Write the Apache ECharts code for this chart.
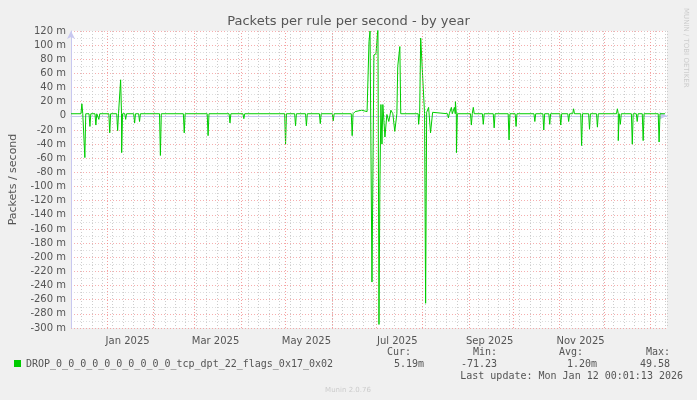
<!DOCTYPE html>
<html>
<head>
<meta charset="UTF-8">
<script src="https://cdn.jsdelivr.net/npm/echarts@6/dist/echarts.min.js"></script>
<style>
  body { margin: 0; background: #f0f0f0; }
  #chart { width: 697px; height: 400px; }
</style>
</head>
<body>
<div id="chart"></div>
<script>
// x = days since 2024-12-08, values in milli packets/s
var baseline = 3;
var spikeDays = [7.3, 9.3, 12.7, 16.7, 18.7, 26, 31.3, 33.3, 34, 36.7, 42.7, 46, 60, 76, 92, 106.7, 116, 144, 150.7, 158, 167.3, 176, 188.7];
var spikeVals = [17, -59, -15, -13, -5, -24, -21, 51, -52, -5, -10, -8, -56, -24, -28, -10, -4, -40, -14, -14, -11, -7, -28];
// busy period around June/July, read point by point
var burstDays = [190.7, 195, 198.7, 200, 200.7, 201.3, 202, 202.7, 203.3, 204.7, 206, 206.7, 207.3, 208, 208.7, 209.3, 210, 210.7, 212, 213.3, 214.7, 216, 217.3, 218.7, 219.3, 220, 220.7, 221.3, 233, 233.3, 234, 234.7, 236, 237.3, 238, 238.7, 240, 241.3, 242.7];
var burstVals = [6, 8, 6, 105, 120, 120, -235, -235, 86, 88, 125, -295, -100, 16, -40, 16, 16, -30, 2, -8, 8, 3, -22, 3, 70, 72, 98, 3, 3, -12, 3, 110, 110, 3, -265, 5, 12, -24, 5];
var lateDays = [253.3, 255.3, 257.3, 258, 258.7, 268.7, 270, 276.7, 284, 294, 298.7, 311.3, 317.3, 321.3, 328.7, 334, 337.3, 342.7, 348, 353.3, 366.7, 367.3, 368.7, 376.7, 380, 384, 394.7];
var lateVals = [-3, 12, 12, 20, -52, -13, 12, -12, -17, -34, -15, -8, -20, -12, -13, -8, 10, -42, -19, -16, 10, -35, -12, -40, -8, -35, -37];
var endDay = 398.7;

var monthStarts = [24, 55, 83, 114, 144, 175, 205, 236, 267, 297, 328, 358, 389];
var labelDays = [38, 97, 158, 219, 281, 342];
var labelTexts = ['Jan 2025', 'Mar 2025', 'May 2025', 'Jul 2025', 'Sep 2025', 'Nov 2025'];

var pts = [[0, baseline]];
function addSpikes(days, vals) {
  for (var i = 0; i < days.length; i++) {
    pts.push([days[i] - 0.6, baseline], [days[i], vals[i]], [days[i] + 0.6, baseline]);
  }
}
addSpikes(spikeDays, spikeVals);
for (var i = 0; i < burstDays.length; i++) pts.push([burstDays[i], burstVals[i]]);
addSpikes(lateDays, lateVals);
pts.push([endDay, baseline]);

var chart = echarts.init(document.getElementById('chart'));
var mono = 'DejaVu Sans Mono';
var txt = '#555';
chart.setOption({
  backgroundColor: '#f0f0f0',
  animation: false,
  title: {
    text: 'Packets per rule per second - by year', left: 'center', top: 10,
    textStyle: { color: txt, fontSize: 13, fontWeight: 'normal', fontFamily: 'DejaVu Sans' }
  },
  grid: { left: 67, right: 30, top: 31, bottom: 72, show: true, backgroundColor: '#fff', borderWidth: 0 },
  xAxis: {
    type: 'value', min: 0, max: 400, interval: 7,
    axisLine: { lineStyle: { color: '#c8c8f0' }, symbol: ['none', 'arrow'], symbolSize: [6, 8] },
    axisTick: { show: false },
    axisLabel: {
      customValues: labelDays, color: txt, fontSize: 10, fontFamily: 'DejaVu Sans',
      formatter: function (v) { return labelTexts[labelDays.indexOf(v)]; }
    },
    splitLine: { show: true, lineStyle: { color: '#ccc', type: [1, 2] } }
  },
  yAxis: {
    type: 'value', min: -300, max: 120, interval: 20,
    name: 'Packets / second', nameLocation: 'middle', nameGap: 52,
    nameTextStyle: { color: txt, fontSize: 11, fontFamily: 'DejaVu Sans' },
    axisLine: { show: true, lineStyle: { color: '#c8c8f0' }, symbol: ['none', 'arrow'], symbolSize: [6, 8] },
    axisTick: { show: false },
    axisLabel: {
      color: txt, fontSize: 10, fontFamily: 'DejaVu Sans', margin: 5,
      formatter: function (v) { return v === 0 ? '0' : v + ' m'; }
    },
    splitLine: { lineStyle: { color: 'rgba(240,120,120,0.6)', type: [1, 2] } },
    minorTick: { show: false, splitNumber: 2 },
    minorSplitLine: { show: true, lineStyle: { color: '#ddd', type: [1, 2] } }
  },
  series: [{
    type: 'line', data: pts, symbol: 'none',
    lineStyle: { color: '#00cc00', width: 1 },
    markLine: {
      silent: true, symbol: 'none', label: { show: false },
      lineStyle: { color: 'rgba(240,120,120,0.7)', type: [1, 2], width: 1 },
      data: monthStarts.map(function (d) { return { xAxis: d }; })
    },
    z: 3
  }],
  graphic: [
    { type: 'text', right: 8, top: 8, rotation: -Math.PI / 2, style: { text: 'MUNIN / TOBI OETIKER', fill: '#ccc', fontSize: 7, fontFamily: 'DejaVu Sans' }, x: 684, y: 6 },
    { type: 'rect', shape: { x: 14, y: 360, width: 7, height: 7 }, style: { fill: '#00cc00' } },
    { type: 'text', x: 26, y: 359, style: { text: 'DROP_0_0_0_0_0_0_0_0_0_0_tcp_dpt_22_flags_0x17_0x02', fill: txt, fontSize: 10, fontFamily: mono } },
    { type: 'text', x: 411, y: 347, style: { text: 'Cur:', fill: txt, fontSize: 10, fontFamily: mono, align: 'right' } },
    { type: 'text', x: 497, y: 347, style: { text: 'Min:', fill: txt, fontSize: 10, fontFamily: mono, align: 'right' } },
    { type: 'text', x: 583, y: 347, style: { text: 'Avg:', fill: txt, fontSize: 10, fontFamily: mono, align: 'right' } },
    { type: 'text', x: 670, y: 347, style: { text: 'Max:', fill: txt, fontSize: 10, fontFamily: mono, align: 'right' } },
    { type: 'text', x: 424, y: 359, style: { text: '5.19m', fill: txt, fontSize: 10, fontFamily: mono, align: 'right' } },
    { type: 'text', x: 497, y: 359, style: { text: '-71.23', fill: txt, fontSize: 10, fontFamily: mono, align: 'right' } },
    { type: 'text', x: 597, y: 359, style: { text: '1.20m', fill: txt, fontSize: 10, fontFamily: mono, align: 'right' } },
    { type: 'text', x: 670, y: 359, style: { text: '49.58', fill: txt, fontSize: 10, fontFamily: mono, align: 'right' } },
    { type: 'text', x: 683, y: 371, style: { text: 'Last update: Mon Jan 12 00:01:13 2026', fill: txt, fontSize: 10, fontFamily: mono, align: 'right' } },
    { type: 'text', x: 348, y: 387, style: { text: 'Munin 2.0.76', fill: '#ccc', fontSize: 7, fontFamily: 'DejaVu Sans', align: 'center' } }
  ]
});
</script>
</body>
</html>
